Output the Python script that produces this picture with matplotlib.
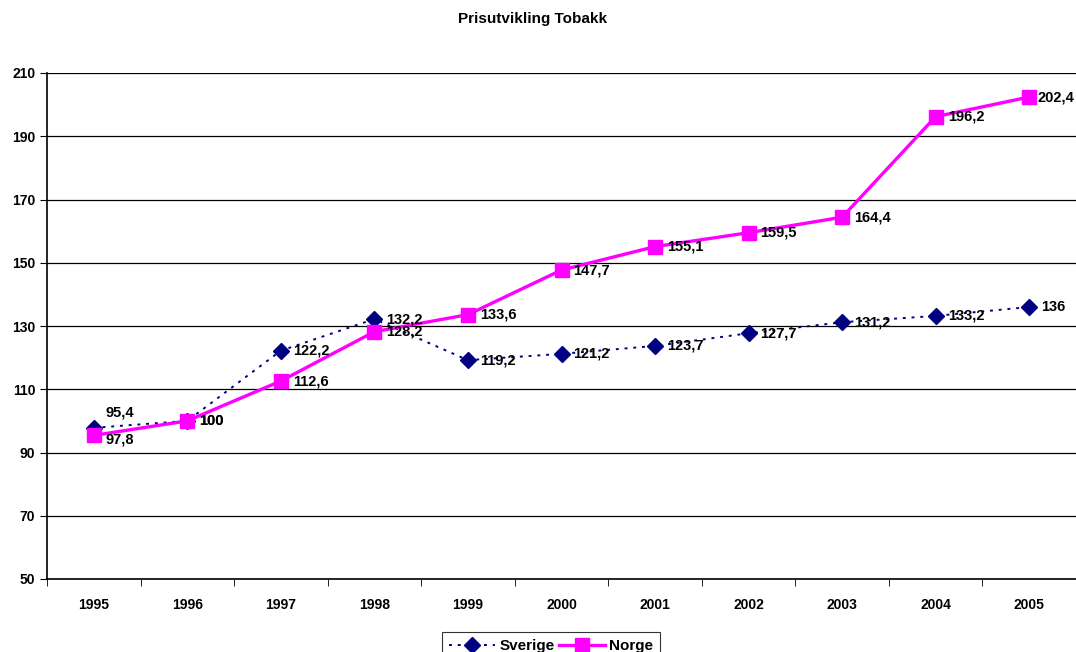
import matplotlib.pyplot as plt
import numpy as np

plt.rcParams["font.family"] = ["Liberation Sans", "DejaVu Sans"]
plt.rcParams["font.weight"] = "bold"

YEARS = ["1995", "1996", "1997", "1998", "1999", "2000",
         "2001", "2002", "2003", "2004", "2005"]
SVERIGE = [97.8, 100, 122.2, 132.2, 119.2, 121.2, 123.7, 127.7, 131.2, 133.2, 136]
NORGE = [95.4, 100, 112.6, 128.2, 133.6, 147.7, 155.1, 159.5, 164.4, 196.2, 202.4]
SVERIGE_LABELS = ["95,4", "100", "122,2", "132,2", "119,2", "121,2",
                  "123,7", "127,7", "131,2", "133,2", "136"]
NORGE_LABELS = ["97,8", "100", "112,6", "128,2", "133,6", "147,7",
                "155,1", "159,5", "164,4", "196,2", "202,4"]

fig = plt.figure(figsize=(10.76, 6.52), dpi=100)
ax = fig.add_axes([47 / 1076, 1 - 579 / 652, 1 - 47 / 1076, (579 - 73) / 652])

x = np.arange(len(YEARS))

ax.set_ylim(50, 210)
ax.set_xlim(-0.5, len(YEARS) - 0.5)
ax.set_yticks(np.arange(50, 211, 20))
ax.yaxis.grid(True, color="black", linewidth=0.9)
ax.set_axisbelow(True)

ax.plot(x, SVERIGE, color="#000080", linestyle=(0, (1.5, 3)), linewidth=1.4,
        marker="D", markersize=8, label="Sverige", zorder=3)
ax.plot(x, NORGE, color="#FF00FF", linewidth=2.4,
        marker="s", markersize=10, label="Norge", zorder=4)

for i, (v, t) in enumerate(zip(SVERIGE, SVERIGE_LABELS)):
    off = (12, 15) if i == 0 else (12, 0)
    ax.annotate(t, (x[i], v), xytext=off, textcoords="offset pixels",
                ha="left", va="center", fontsize=10.5, fontweight="bold", zorder=5)
for i, (v, t) in enumerate(zip(NORGE, NORGE_LABELS)):
    off = (12, -4) if i == 0 else (12, 0)
    if i == len(NORGE) - 1:
        off = (8, 0)
    ax.annotate(t, (x[i], v), xytext=off, textcoords="offset pixels",
                ha="left", va="center", fontsize=10.5, fontweight="bold", zorder=5)

ax.set_xticks(x)
ax.set_xticklabels(YEARS)
ax.set_xticks(np.arange(-0.5, len(YEARS)), minor=True)
ax.tick_params(axis="x", which="major", length=0, pad=14, labelsize=10)
ax.tick_params(axis="x", which="minor", length=5, direction="out")
ax.tick_params(axis="y", length=5, direction="out", labelsize=10)

for side in ("top", "right"):
    ax.spines[side].set_visible(False)
for side in ("left", "bottom"):
    ax.spines[side].set_linewidth(1.2)

fig.text(533 / 1076, 1 - 19 / 652, "Prisutvikling Tobakk", ha="center",
         va="center", fontsize=11, fontweight="bold")

leg = fig.legend(loc="upper center", bbox_to_anchor=(551 / 1076, 1 - 632 / 652),
                 ncol=2, frameon=True, fancybox=False, edgecolor="black",
                 fontsize=11, handlelength=3.0, columnspacing=0.3,
                 handletextpad=0.3, borderpad=0.45, borderaxespad=0)
leg.get_frame().set_linewidth(0.8)

fig.savefig("out.png", dpi=100)
